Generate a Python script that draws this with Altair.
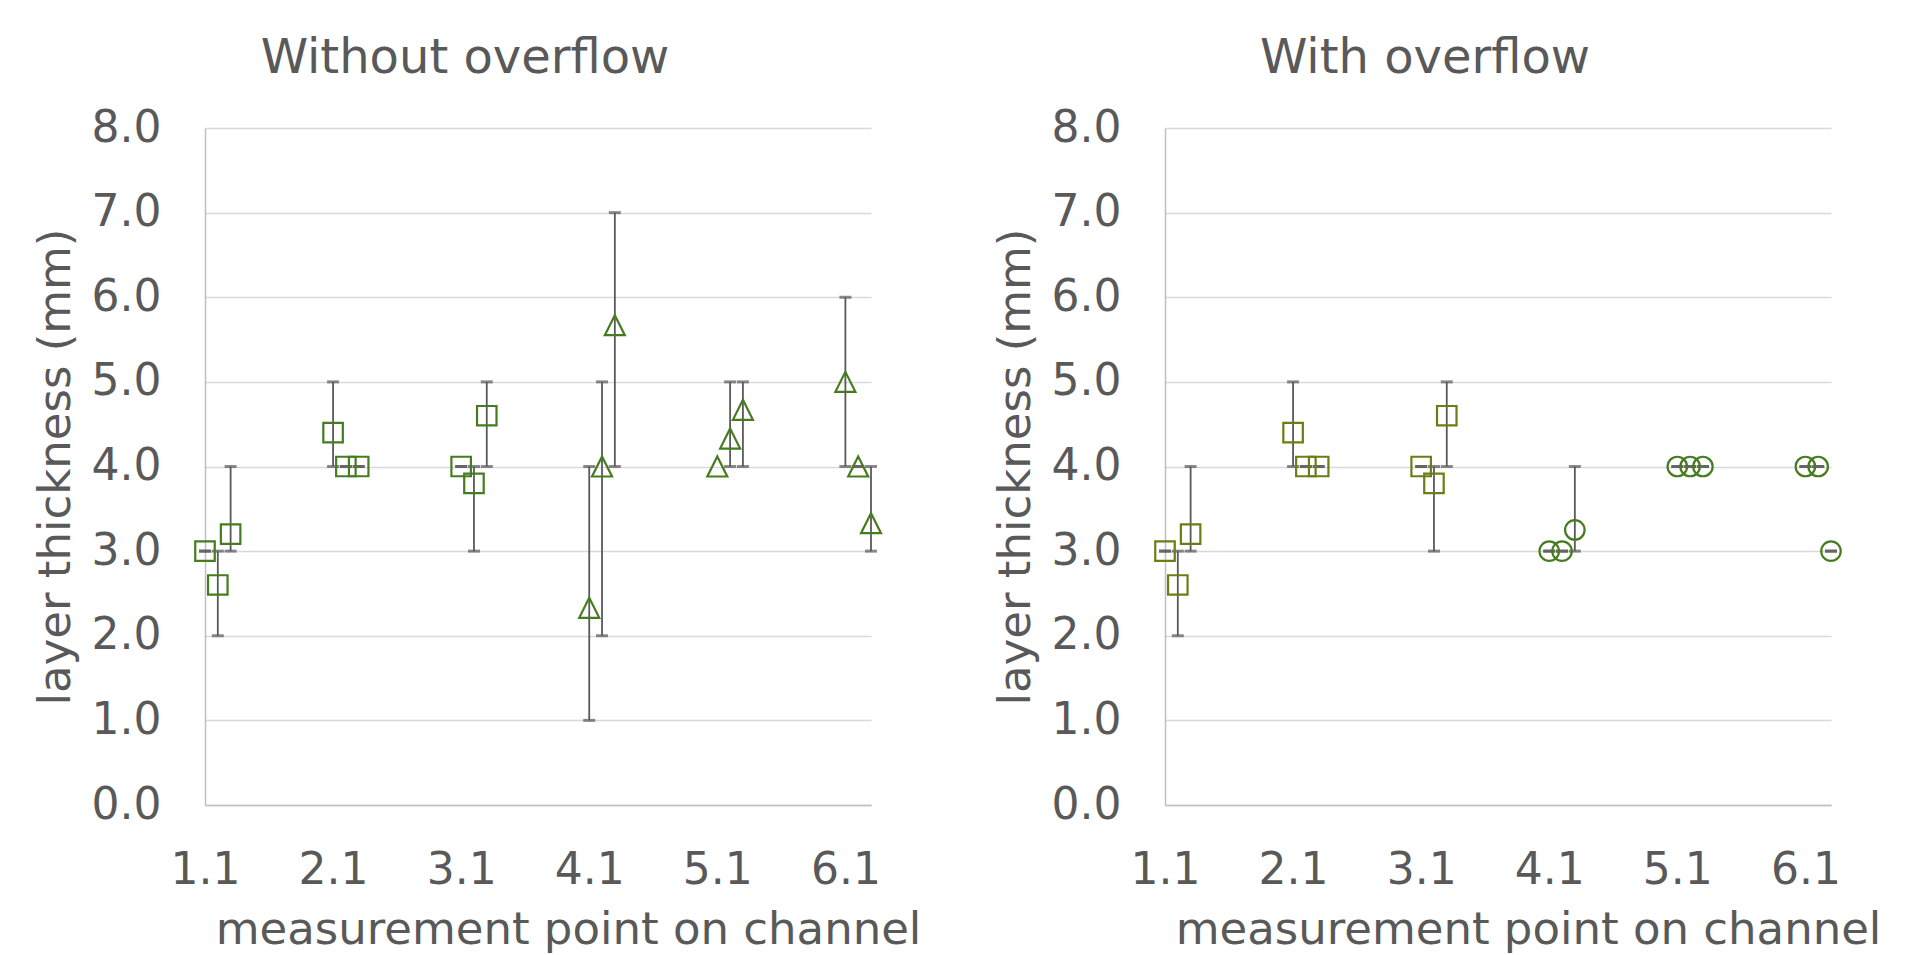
import altair as alt
import pandas as pd

# ---- data ----
positions = [1.1, 1.2, 1.3, 2.1, 2.2, 2.3, 3.1, 3.2, 3.3,
             4.1, 4.2, 4.3, 5.1, 5.2, 5.3, 6.1, 6.2, 6.3]
marker_group = ["square"] * 9 + ["other"] * 9

without_mean = [3.0, 2.6, 3.2, 4.4, 4.0, 4.0, 4.0, 3.8, 4.6,
                2.33, 4.0, 5.67, 4.0, 4.33, 4.67, 5.0, 4.0, 3.33]
without_low = [3, 2, 3, 4, 4, 4, 4, 3, 4,
               1, 2, 4, None, 4, 4, 4, 4, 3]
without_high = [3, 3, 4, 5, 4, 4, 4, 4, 5,
                4, 5, 7, None, 5, 5, 6, 4, 4]

with_mean = [3.0, 2.6, 3.2, 4.4, 4.0, 4.0, 4.0, 3.8, 4.6,
             3.0, 3.0, 3.25, 4.0, 4.0, 4.0, 4.0, 4.0, 3.0]
with_low = [3, 2, 3, 4, 4, 4, 4, 3, 4,
            3, 3, 3, 4, 4, 4, 4, 4, 3]
with_high = [3, 3, 4, 5, 4, 4, 4, 4, 5,
             3, 3, 4, 4, 4, 4, 4, 4, 3]

x_ticks = [1.1, 2.1, 3.1, 4.1, 5.1, 6.1]
y_ticks = [0, 1, 2, 3, 4, 5, 6, 7, 8]
x_domain = [1.1, 6.3]
y_domain = [0, 8]

TEXT = "#595959"
FONT = "DejaVu Sans"
W, H = 666, 677
TRIANGLE = "M0,-1L1,1L-1,1Z"
X_TITLE = "measurement point on channel"
Y_TITLE = "layer thickness (mm)"


def panel(title, mean, low, high, square_color, other_shape, other_color):
    df = pd.DataFrame({"pos": positions, "mean": mean, "low": low,
                       "high": high, "group": marker_group})
    eb = df[df["low"].notna()].copy()
    caps = pd.concat([
        eb[["pos", "low"]].rename(columns={"low": "v"}),
        eb[["pos", "high"]].rename(columns={"high": "v"}),
    ])

    xs = alt.Scale(domain=x_domain, nice=False, zero=False)
    ys = alt.Scale(domain=y_domain, nice=False, zero=False)

    xa = alt.Axis(
        values=x_ticks, format=".1f", title=X_TITLE,
        grid=False, ticks=False, tickSize=0, labelPadding=43,
        titleX=363, titleY=138, titleBaseline="alphabetic",
        titleAlign="center", domainColor="#bfbfbf", domainWidth=1.5,
        labelFlush=False)
    ya = alt.Axis(
        values=y_ticks, format=".1f", title=Y_TITLE,
        grid=True, ticks=False, tickSize=0, labelPadding=44,
        titleX=-136, titleBaseline="alphabetic", titleAlign="center",
        domainColor="#bfbfbf", domainWidth=1.5, gridColor="#d9d9d9",
        gridWidth=1.5)

    rules = alt.Chart(eb).mark_rule(color="#595959", strokeWidth=1.8).encode(
        x=alt.X("pos:Q", scale=xs, axis=xa),
        y=alt.Y("low:Q", scale=ys, axis=ya),
        y2="high:Q")
    cap_marks = alt.Chart(caps).mark_tick(
        orient="horizontal", size=12, thickness=3, color="#595959").encode(
        x=alt.X("pos:Q", scale=xs, axis=xa),
        y=alt.Y("v:Q", scale=ys, axis=ya))

    squares = alt.Chart(df[df["group"] == "square"]).mark_point(
        shape="square", filled=False, size=380, strokeWidth=2.2,
        color=square_color, opacity=1).encode(
        x=alt.X("pos:Q", scale=xs, axis=xa),
        y=alt.Y("mean:Q", scale=ys, axis=ya))
    others = alt.Chart(df[df["group"] == "other"]).mark_point(
        shape=other_shape, filled=False,
        size=400 if other_shape == TRIANGLE else 380, strokeWidth=2.2,
        color=other_color, opacity=1).encode(
        x=alt.X("pos:Q", scale=xs, axis=xa),
        y=alt.Y("mean:Q", scale=ys, axis=ya))

    return alt.layer(rules, cap_marks, squares, others).properties(
        width=W, height=H,
        title=alt.TitleParams(title, fontSize=48, font=FONT, color=TEXT,
                              fontWeight="normal", anchor="middle",
                              frame="group", dx=-73, baseline="alphabetic",
                              offset=-15))


left = panel("Without overflow", without_mean, without_low, without_high,
             "#467c1f", TRIANGLE, "#467c1f")
right = panel("With overflow", with_mean, with_low, with_high,
              "#6b7d14", "circle", "#467c1f")

chart = alt.hconcat(left, right, spacing=294, bounds="flush").properties(
    padding={"left": 25, "top": 27, "right": 0, "bottom": 14}
).configure_view(stroke=None).configure_axis(
    labelFont=FONT, labelFontSize=44, labelColor=TEXT,
    titleFont=FONT, titleFontSize=45, titleColor=TEXT,
    titleFontWeight="normal")

chart.save("out.html", embed_options={"renderer": "svg", "actions": False})
